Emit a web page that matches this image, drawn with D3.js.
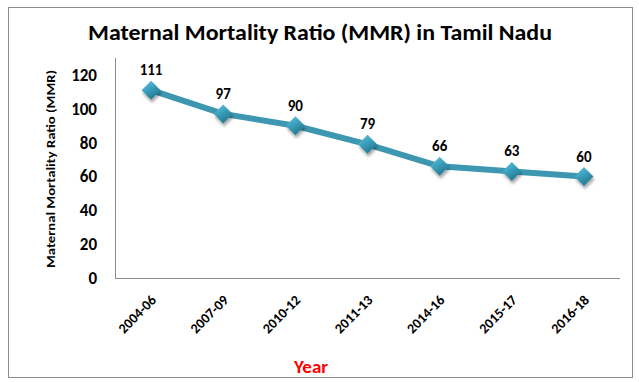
<!DOCTYPE html>
<html>
<head>
<meta charset="utf-8">
<script src="https://cdn.jsdelivr.net/npm/d3@7"></script>
<style>
  body { margin:0; background:#fff; }
  text { font-family: Carlito, "Liberation Sans", Arial, sans-serif; }
</style>
</head>
<body>
<div id="canvas"></div>
<script>
// data
var periods = ['2004-06','2007-09','2010-12','2011-13','2014-16','2015-17','2016-18'];
var mmr = [111, 97, 90, 79, 66, 63, 60];
var yTicks = [0, 20, 40, 60, 80, 100, 120];

var W = 639, H = 382;
var m = {t:58, r:19, b:104, l:115};
var w = W - m.l - m.r,
    h = H - m.t - m.b;

var svg = d3.select('#canvas').append('svg')
    .attr('width', W).attr('height', H);

// gradient + shadow for diamonds
var defs = svg.append('defs');
var grad = defs.append('linearGradient').attr('id','dg')
    .attr('x1','0').attr('y1','0').attr('x2','0.6').attr('y2','1');
grad.append('stop').attr('offset','0').attr('stop-color','#6cc6de');
grad.append('stop').attr('offset','0.5').attr('stop-color','#3aa0bd');
grad.append('stop').attr('offset','1').attr('stop-color','#24758d');
var f = defs.append('filter').attr('id','sh').attr('x','-50%').attr('y','-50%').attr('width','200%').attr('height','200%');
f.append('feDropShadow').attr('dx',1).attr('dy',3).attr('stdDeviation',1.5)
    .attr('flood-color','#000').attr('flood-opacity',0.35);

// outer frame
svg.append('rect')
    .attr('x',8.5).attr('y',7.5).attr('width',624).attr('height',370)
    .attr('fill','none').attr('stroke','#8c8c8c').attr('stroke-width',1);

// title
svg.append('text')
    .attr('x', 320).attr('y', 40)
    .attr('text-anchor','middle')
    .attr('font-size', 22).attr('font-weight','bold')
    .attr('textLength', 464).attr('lengthAdjust','spacingAndGlyphs')
    .text('Maternal Mortality Ratio (MMR) in Tamil Nadu');

var plot = svg.append('g').attr('transform','translate(' + m.l + ',' + m.t + ')');

var scaleX = d3.scaleBand().domain(periods).range([0, w]);
var scaleY = d3.scaleLinear().domain([0, 120]).range([220, 17]);

// axis lines (left + bottom only)
plot.append('line').attr('x1',0.5).attr('x2',0.5).attr('y1',0).attr('y2',scaleY(0))
    .attr('stroke','#8c8c8c');
plot.append('line').attr('x1',0).attr('x2',w).attr('y1',scaleY(0)+0.5).attr('y2',scaleY(0)+0.5)
    .attr('stroke','#8c8c8c');

// y axis
var axisY = d3.axisLeft(scaleY).tickValues(yTicks).tickSize(0).tickPadding(18);
var gy = plot.append('g').call(axisY);
gy.select('.domain').remove();
gy.selectAll('text')
    .attr('font-size', 17).attr('font-weight','bold').attr('fill','#000')
    .attr('font-family','Carlito, "Liberation Sans", Arial, sans-serif');

// x axis
var axisX = d3.axisBottom(scaleX).tickSize(0);
var gx = plot.append('g').attr('transform','translate(0,' + scaleY(0) + ')').call(axisX);
gx.select('.domain').remove();
gx.selectAll('text')
    .attr('font-size', 14).attr('font-weight','bold').attr('fill','#000')
    .attr('font-family','Carlito, "Liberation Sans", Arial, sans-serif')
    .attr('text-anchor','end')
    .attr('dy', null).attr('y', 0)
    .attr('transform','translate(6,23) rotate(-45)');

// axis titles
svg.append('text')
    .attr('transform','translate(55,169) rotate(-90)')
    .attr('text-anchor','middle')
    .attr('font-size', 12).attr('font-weight','bold')
    .attr('textLength', 198).attr('lengthAdjust','spacingAndGlyphs')
    .text('Maternal Mortality Ratio (MMR)');

svg.append('text')
    .attr('x', 311).attr('y', 373)
    .attr('text-anchor','middle')
    .attr('font-family','"Liberation Sans", Arial, sans-serif')
    .attr('font-size', 19).attr('font-weight','bold').attr('fill','#ff0000')
    .text('Year');

// line
var cx = function(d, i){ return scaleX(periods[i]) + scaleX.bandwidth()/2; };
var line = d3.line().x(cx).y(function(d){ return scaleY(d); });

plot.append('path').datum(mmr)
    .attr('d', line)
    .attr('fill','none').attr('stroke','#3d97b0').attr('stroke-width',6)
    .attr('stroke-linejoin','round');

// markers
var sym = d3.symbol().type(d3.symbolDiamond2).size(230);
plot.selectAll('.mk').data(mmr).enter().append('path')
    .attr('class','mk')
    .attr('d', sym)
    .attr('transform', function(d, i){ return 'translate(' + cx(d, i) + ',' + scaleY(d) + ')'; })
    .attr('fill','url(#dg)')
    .attr('filter','url(#sh)');

// value labels
plot.selectAll('.lbl').data(mmr).enter().append('text')
    .attr('class','lbl')
    .attr('x', cx)
    .attr('y', function(d){ return scaleY(d) - 15; })
    .attr('text-anchor','middle')
    .attr('font-size', 15).attr('font-weight','bold')
    .text(function(d){ return d; });
</script>
</body>
</html>
